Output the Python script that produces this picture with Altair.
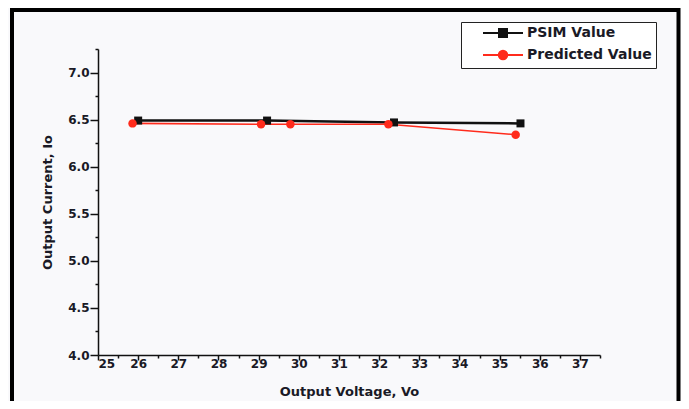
import altair as alt
import pandas as pd

# ---- data ----
series_names = ["PSIM Value", "Predicted Value"]
psim_vo = [26.00, 29.21, 32.37, 35.52]
psim_io = [6.49, 6.49, 6.47, 6.46]
pred_vo = [25.86, 29.06, 29.79, 32.23, 35.40]
pred_io = [6.46, 6.45, 6.45, 6.45, 6.34]

x_major = [25, 26, 27, 28, 29, 30, 31, 32, 33, 34, 35, 36, 37]
x_minor = [25.5, 26.5, 27.5, 28.5, 29.5, 30.5, 31.5, 32.5, 33.5, 34.5, 35.5, 36.5, 37.5]
y_major = [4.0, 4.5, 5.0, 5.5, 6.0, 6.5, 7.0]
y_minor = [4.25, 4.75, 5.25, 5.75, 6.25, 6.75, 7.25]

psim = pd.DataFrame({"Vo": psim_vo, "Io": psim_io, "series": series_names[0]})
pred = pd.DataFrame({"Vo": pred_vo, "Io": pred_io, "series": series_names[1]})
both = pd.concat([psim, pred], ignore_index=True)

BLACK = "#111111"
RED = "#ff2b1c"
FONT = "DejaVu Sans"
TXT = "#1a1a26"

xs = alt.Scale(domain=[25, 37.5], nice=False, zero=False)
ys = alt.Scale(domain=[4.0, 7.25], nice=False, zero=False)

x_major_axis = alt.Axis(values=x_major, orient="bottom", title="Output Voltage, Vo",
                        format="d", tickSize=5, labelPadding=-2, titlePadding=16)
y_major_axis = alt.Axis(values=y_major, orient="left", title="Output Current, Io",
                        format=".1f", tickSize=8, labelPadding=1, titlePadding=13)
x_minor_axis = alt.Axis(values=x_minor, orient="bottom", title=None, labels=False,
                        domain=False, tickSize=3)
y_minor_axis = alt.Axis(values=y_minor, orient="left", title=None, labels=False,
                        domain=False, tickSize=3)

frame = alt.Chart(pd.DataFrame({"k": [0]})).mark_rect(
    fillOpacity=0, stroke="black", strokeWidth=4
).encode(x=alt.value(-86), x2=alt.value(580.5), y=alt.value(-39), y2=alt.value(380))

psim_line = alt.Chart(psim).mark_line(color=BLACK, strokeWidth=2.5).encode(
    x=alt.X("Vo:Q", scale=xs, axis=x_major_axis),
    y=alt.Y("Io:Q", scale=ys, axis=y_major_axis),
)
pred_line = alt.Chart(pred).mark_line(color=RED, strokeWidth=1.6).encode(
    x=alt.X("Vo:Q", scale=xs, axis=x_minor_axis),
    y=alt.Y("Io:Q", scale=ys, axis=y_minor_axis),
)
psim_pts = alt.Chart(psim).mark_square(color=BLACK, size=64, opacity=1).encode(
    x=alt.X("Vo:Q", scale=xs, axis=None),
    y=alt.Y("Io:Q", scale=ys, axis=None),
)
pred_pts = alt.Chart(pred).mark_circle(color=RED, size=72, opacity=1).encode(
    x=alt.X("Vo:Q", scale=xs, axis=None),
    y=alt.Y("Io:Q", scale=ys, axis=None),
)

sq_path = "M-4,0H4M-0.8,-0.8H0.8V0.8H-0.8Z"
ci_path = "M-4,0H4M-0.85,0A0.85,0.85 0 1,0 0.85,0A0.85,0.85 0 1,0 -0.85,0Z"

leg = alt.Legend(title=None, orient="none", legendX=363, legendY=-27,
                 labelFont=FONT, labelFontSize=14, labelFontWeight="bold", labelColor=TXT,
                 strokeColor="#222222", fillColor="white", padding=4, rowPadding=5,
                 symbolSize=100, symbolStrokeWidth=2, symbolOffset=31, labelOffset=17)

legend_layer = alt.Chart(both).transform_filter("false").mark_point(
    filled=True, size=100, strokeWidth=2, opacity=1
).encode(
    x=alt.X("Vo:Q", scale=xs, axis=None),
    y=alt.Y("Io:Q", scale=ys, axis=None),
    color=alt.Color("series:N", scale=alt.Scale(domain=series_names, range=[BLACK, RED]), legend=leg),
    stroke=alt.Stroke("series:N", scale=alt.Scale(domain=series_names, range=[BLACK, RED]), legend=leg),
    shape=alt.Shape("series:N", scale=alt.Scale(domain=series_names, range=[sq_path, ci_path]), legend=leg),
)

chart = alt.layer(frame, psim_line, pred_line, psim_pts, pred_pts, legend_layer).resolve_axis(
    x="independent", y="independent"
).properties(
    width=502, height=306,
    autosize=alt.AutoSizeParams(type="none"),
    padding={"left": 90, "top": 41, "right": 81, "bottom": 46},
    background="#f9f9fb",
).configure_view(stroke=None).configure_axis(
    grid=False, domainColor=BLACK, domainWidth=1.5, tickColor=BLACK, tickWidth=1.5,
    labelFont=FONT, labelFontSize=12, labelFontWeight="bold", labelColor=TXT,
    titleFont=FONT, titleFontSize=13, titleFontWeight="bold", titleColor=TXT,
)

chart.save("out.html", embed_options={"renderer": "svg", "actions": False})
